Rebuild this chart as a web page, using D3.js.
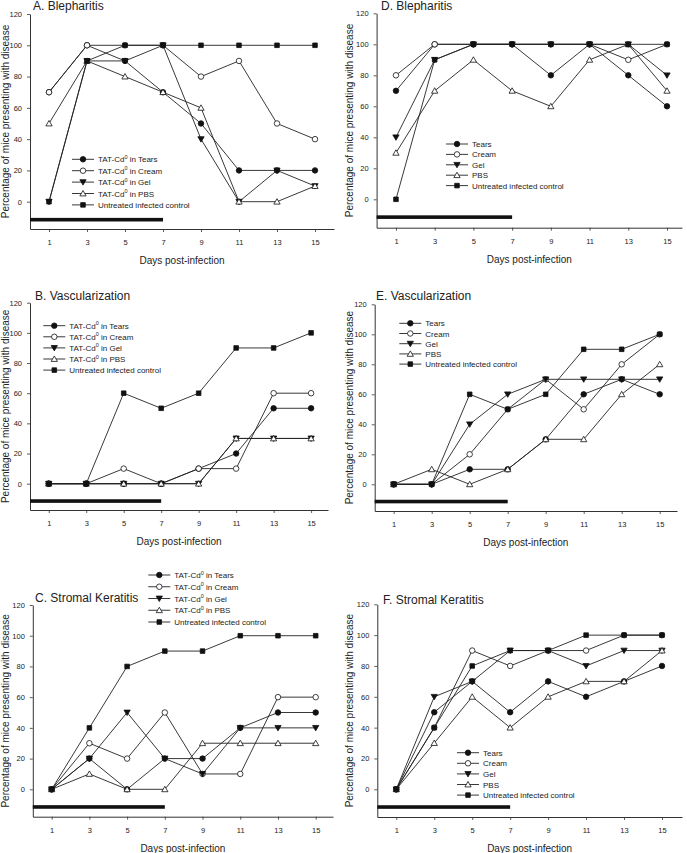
<!DOCTYPE html>
<html><head><meta charset="utf-8">
<script src="https://cdn.jsdelivr.net/npm/d3@7"></script>
<style>
body{margin:0;background:#fff}
svg{display:block}
text{font-family:"Liberation Sans",Arial,Helvetica,sans-serif;fill:#222}
</style>
</head><body>
<svg id="chart" width="687" height="853"></svg>
<script>
// ---------- data ----------
const days = [1, 3, 5, 7, 9, 11, 13, 15];
const yTickValues = [0, 20, 40, 60, 80, 100, 120];
const seriesNames = ["Tears", "Cream", "Gel", "PBS", "Untreated infected control"];
const panelTitles = ["A. Blepharitis", "B. Vascularization", "C. Stromal Keratitis",
                     "D. Blepharitis", "E. Vascularization", "F. Stromal Keratitis"];
const xAxisTitle = "Days post-infection";
const yAxisTitle = "Percentage of mice presenting with disease";
const treatmentDays = [0, 7];

// order of rows: Tears, Cream, Gel, PBS, Untreated control
const valuesA = [
  [70, 100, 90, 70, 50, 20, 20, 20],
  [70, 100, 100, 100, 80, 90, 50, 40],
  [0, 90, 90, 100, 40, 0, 20, 10],
  [50, 90, 80, 70, 60, 0, 0, 10],
  [0, 90, 100, 100, 100, 100, 100, 100]
];
const valuesB = [
  [0, 0, 0, 0, 10, 20, 50, 50],
  [0, 0, 10, 0, 10, 10, 60, 60],
  [0, 0, 0, 0, 0, 30, 30, 30],
  [0, 0, 0, 0, 0, 30, 30, 30],
  [0, 0, 60, 50, 60, 90, 90, 100]
];
const valuesC = [
  [0, 20, 0, 20, 20, 40, 50, 50],
  [0, 30, 20, 50, 10, 10, 60, 60],
  [0, 20, 50, 20, 10, 40, 40, 40],
  [0, 10, 0, 0, 30, 30, 30, 30],
  [0, 40, 80, 90, 90, 100, 100, 100]
];
const valuesD = [
  [70, 100, 100, 100, 80, 100, 80, 60],
  [80, 100, 100, 100, 100, 100, 90, 100],
  [40, 90, 100, 100, 100, 100, 100, 80],
  [30, 70, 90, 70, 60, 90, 100, 70],
  [0, 90, 100, 100, 100, 100, 100, 100]
];
const valuesE = [
  [0, 0, 10, 10, 30, 60, 70, 60],
  [0, 0, 20, 50, 70, 50, 80, 100],
  [0, 0, 40, 60, 70, 70, 70, 70],
  [0, 10, 0, 10, 30, 30, 60, 80],
  [0, 0, 60, 50, 60, 90, 90, 100]
];
const valuesF = [
  [0, 50, 70, 50, 70, 60, 70, 80],
  [0, 40, 90, 80, 90, 90, 100, 100],
  [0, 60, 70, 90, 90, 80, 90, 90],
  [0, 30, 60, 40, 60, 70, 70, 90],
  [0, 40, 80, 90, 90, 100, 100, 100]
];

// ---------- layout ----------
const panels = [
  {vals: valuesA, tat: true,  x0: 30,    perDay: 19,    xEnd: 334, yTop: 14,    yZero: 201.7, yBot: 229,   yt: 5,   tx: 33,  ty: 10,  leg: [72, 159.3, 11.4]},
  {vals: valuesB, tat: true,  x0: 30,    perDay: 18.74, xEnd: 328, yTop: 302.7, yZero: 483.7, yBot: 510,   yt: 5,   tx: 35,  ty: 300, leg: [43.3, 325.7, 11.1]},
  {vals: valuesC, tat: true,  x0: 32.8,  perDay: 18.86, xEnd: 333, yTop: 605,   yZero: 789.3, yBot: 816.7, yt: 5,   tx: 35,  ty: 602, leg: [148.3, 575, 11.75]},
  {vals: valuesD, tat: false, x0: 376.6, perDay: 19.36, xEnd: 682, yTop: 13.3,  yZero: 199.3, yBot: 227.7, yt: 349, tx: 381, ty: 10,  leg: [446, 144, 10.4]},
  {vals: valuesE, tat: false, x0: 374.7, perDay: 19,    xEnd: 677, yTop: 304.3, yZero: 484.3, yBot: 511,   yt: 349, tx: 376, ty: 300, leg: [399.3, 323.3, 10.2]},
  {vals: valuesF, tat: false, x0: 377.3, perDay: 18.98, xEnd: 682, yTop: 604.3, yZero: 789.3, yBot: 817,   yt: 349, tx: 383, ty: 604, leg: [457, 752.7, 10.6]}
];

const svg = d3.select("#chart");

const symTypes = [d3.symbolCircle, d3.symbolCircle, d3.symbolTriangle, d3.symbolTriangle, d3.symbolSquare];
const symSizes = [24, 24, 17, 17, 21];
const symFill = ["#111", "#fff", "#111", "#fff", "#111"];
const symRot = [0, 0, 180, 0, 0];

function marker(g, i, x, y) {
  const p = d3.symbol().type(symTypes[i]).size(symSizes[i])();
  const dy = symTypes[i] === d3.symbolTriangle ? (symRot[i] ? -0.6 : 0.6) : 0;
  g.append("path")
    .attr("d", p)
    .attr("transform", `translate(${x},${y + dy}) rotate(${symRot[i]})`)
    .attr("fill", symFill[i])
    .attr("stroke", "#111")
    .attr("stroke-width", 0.8);
}

panels.forEach((P, pi) => {
  const g = svg.append("g");
  const xMax = (P.xEnd - P.x0) / P.perDay;
  const x = d3.scaleLinear().domain([0, xMax]).range([P.x0, P.xEnd]);
  const yPer = (P.yZero - P.yTop) / 120;
  const yMin = -(P.yBot - P.yZero) / yPer;
  const y = d3.scaleLinear().domain([yMin, 120]).range([P.yBot, P.yTop]);

  // axes
  const ya = g.append("g").attr("transform", `translate(${P.x0},0)`)
    .call(d3.axisLeft(y).tickValues(yTickValues).tickSize(3).tickSizeOuter(0).tickPadding(5));
  const xa = g.append("g").attr("transform", `translate(0,${P.yBot})`)
    .call(d3.axisBottom(x).tickValues(days).tickSize(3).tickSizeOuter(0).tickPadding(7.5));
  [ya, xa].forEach(a => {
    a.select(".domain").attr("stroke", "#333").attr("stroke-width", 1);
    a.selectAll(".tick line").attr("stroke", "#333").attr("stroke-width", 0.8);
    a.selectAll(".tick text").attr("font-size", 7.5).attr("fill", "#333")
      .style("font-family", '"Liberation Sans",Arial,sans-serif');
  });

  // treatment bar
  g.append("rect")
    .attr("x", x(treatmentDays[0])).attr("width", x(treatmentDays[1]) - x(treatmentDays[0]))
    .attr("y", y(-11.5) - 1.8).attr("height", 3.6).attr("fill", "#111");

  // series
  const line = d3.line().x((d, i) => x(days[i])).y(d => y(d));
  P.vals.forEach((vals, si) => {
    g.append("path").datum(vals).attr("d", line)
      .attr("fill", "none").attr("stroke", "#222").attr("stroke-width", 0.9);
    vals.forEach((v, i) => marker(g, si, x(days[i]), y(v)));
  });

  // legend
  const [lx, ly, ldy] = P.leg;
  seriesNames.forEach((name, si) => {
    const yy = ly + si * ldy;
    g.append("line").attr("x1", lx).attr("x2", lx + 22).attr("y1", yy).attr("y2", yy)
      .attr("stroke", "#222").attr("stroke-width", 0.9);
    marker(g, si, lx + 11, yy);
    const t = g.append("text").attr("x", lx + 26).attr("y", yy + 3).attr("font-size", 8).attr("fill", "#333");
    if (P.tat && si < 4) {
      t.append("tspan").text("TAT-Cd");
      t.append("tspan").text("0").attr("font-size", 5.5).attr("dy", -3.5);
      t.append("tspan").text(" in " + name).attr("dy", 3.5);
    } else {
      t.text(name);
    }
  });

  // titles
  g.append("text").attr("x", P.tx).attr("y", P.ty).attr("font-size", 12).attr("fill", "#222")
    .text(panelTitles[pi]);
  g.append("text").attr("x", (P.x0 + P.xEnd) / 2).attr("y", P.yBot + 35)
    .attr("text-anchor", "middle").attr("font-size", 10).attr("fill", "#333").text(xAxisTitle);
  g.append("text")
    .attr("transform", `translate(${P.yt + 3.5},${(P.yTop + P.yBot) / 2}) rotate(-90)`)
    .attr("text-anchor", "middle").attr("font-size", 10).attr("fill", "#333").text(yAxisTitle);
});
</script>
</body></html>
